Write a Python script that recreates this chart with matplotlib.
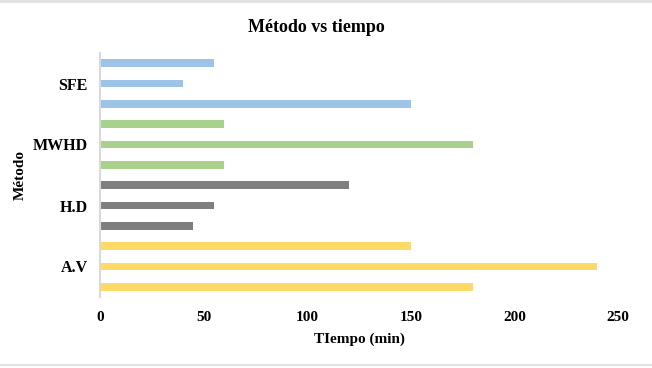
import matplotlib.pyplot as plt
import numpy as np
from matplotlib.lines import Line2D

# categories (bottom to top) and the three bars in each group (bottom, middle, top)
metodos = ['A.V', 'H.D', 'MWHD', 'SFE']
bar_bajo = [180, 45, 60, 150]
bar_medio = [240, 55, 180, 40]
bar_alto = [150, 120, 60, 55]
colores = ['#FFD966', '#7F7F7F', '#A9D18E', '#9DC3E6']
x_ticks = [0, 50, 100, 150, 200, 250]

plt.rcParams['font.family'] = ['Liberation Serif', 'DejaVu Serif']

fig = plt.figure(figsize=(6.52, 3.68), dpi=100)
ax = fig.add_axes([100 / 652, (368 - 297) / 368, (618 - 100) / 652, (297 - 53) / 368])

y = np.arange(len(metodos))
alto = 0.13
offsets = [-1 / 3, 0, 1 / 3]
for off, vals in zip(offsets, [bar_bajo, bar_medio, bar_alto]):
    ax.barh(y + off, vals, height=alto, color=colores)

ax.set_xlim(0, 250)
ax.set_ylim(-0.5, len(metodos) - 0.5)
ax.set_xticks(x_ticks)
ax.set_xticklabels([str(t) for t in x_ticks], fontsize=11, fontweight='bold')
ax.set_yticks(y)
ax.set_yticklabels(metodos, fontsize=11.5, fontweight='bold')
ax.tick_params(axis='both', length=0)
ax.tick_params(axis='x', pad=10)
ax.tick_params(axis='y', pad=9)

for s in ['top', 'right', 'bottom']:
    ax.spines[s].set_visible(False)
ax.spines['left'].set_color('#D9D9D9')
ax.spines['left'].set_linewidth(1.5)

ax.set_xlabel('TIempo (min)', fontsize=11, fontweight='bold', labelpad=6)
ax.set_ylabel('Método', fontsize=11, fontweight='bold', labelpad=4)
fig.text(316 / 652, 1 - 27 / 368, 'Método vs tiempo', ha='center', va='center',
         fontsize=13, fontweight='bold')

# light frame lines at top and bottom of the picture
fig.add_artist(Line2D([0, 1], [1 - 1 / 368, 1 - 1 / 368], color='#E0E0E0', lw=2,
                      transform=fig.transFigure))
fig.add_artist(Line2D([0, 1], [3 / 368, 3 / 368], color='#E0E0E0', lw=1.5,
                      transform=fig.transFigure))

fig.savefig('out.png', dpi=100)
